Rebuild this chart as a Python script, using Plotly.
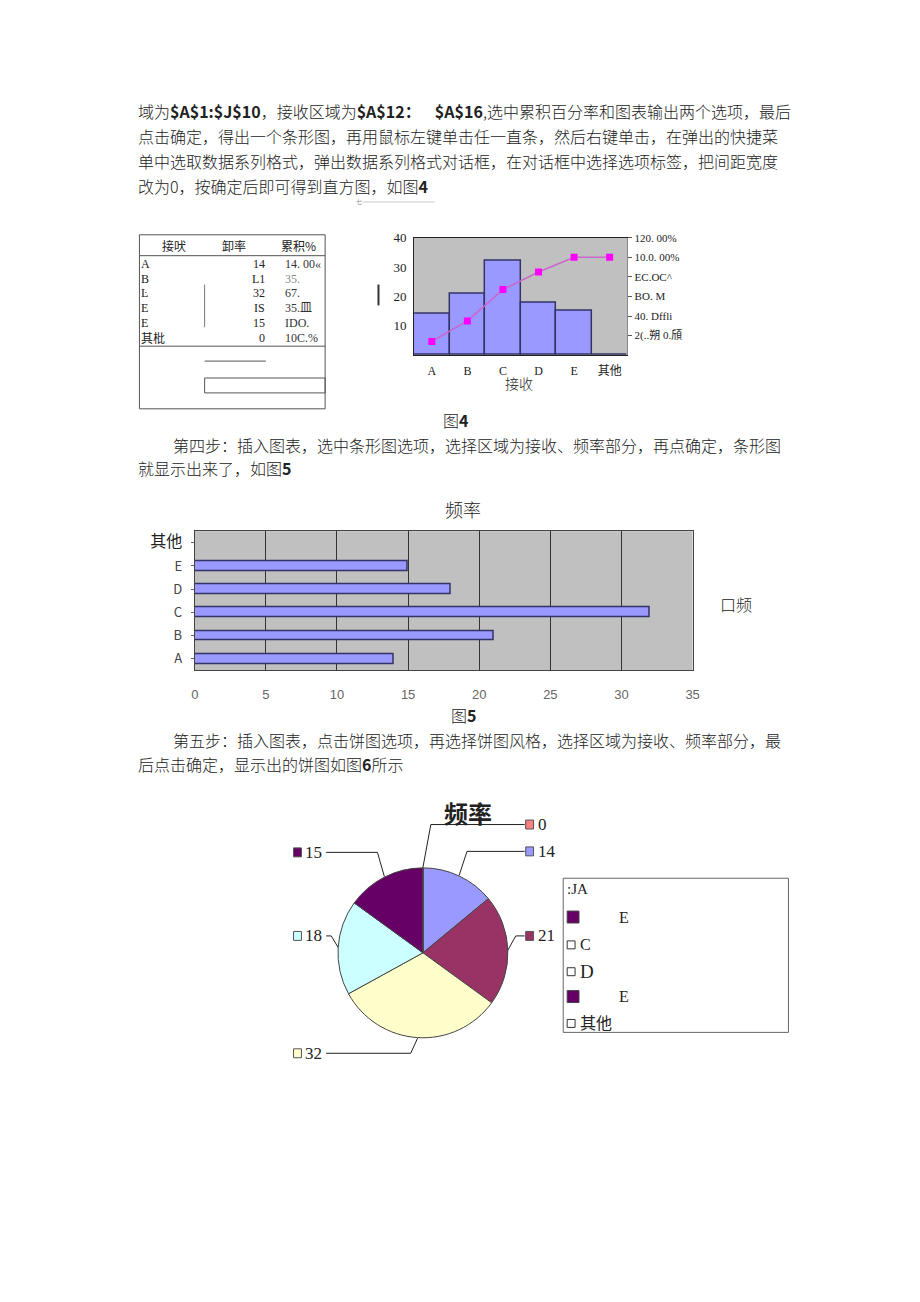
import math
import plotly.graph_objects as go

# ---------------- data ----------------
categories = ["A", "B", "C", "D", "E", "其他"]
freq = [14, 21, 32, 18, 15, 0]
cum_pct = [14, 35, 67, 85, 100, 100]
cum_ticks = [20, 40, 60, 80, 100, 120]
cum_ticktext = ["2(..朔 0.頎", "40. Dffli", "BO. M", "EC.OC^", "10.0. 00%", "120. 00%"]
left_ticks = [10, 20, 30, 40]
bar_ticks = [0, 5, 10, 15, 20, 25, 30, 35]

table_header = ["接吠", "卸率", "累积%"]
table_labels = ["A", "B", "Ŀ", "E", "E", "其枇"]
table_freq = ["14", "L1", "32", "IS", "15", "0"]
table_cum = ["14. 00«", "35.", "67.", "35.皿", "IDO.", "10C.%"]

pie_colors = ["#9999FF", "#993366", "#FFFFCC", "#CCFFFF", "#660066", "#FF8080"]
legend_entries = [":JA", "E", "C", "D", "E", "其他"]

para1 = [
    "域为<b>$A$1:$J$10</b>，接收区域为<b>$A$12：</b>    <b>$A$16</b>,选中累积百分率和图表输出两个选项，最后",
    "点击确定，得出一个条形图，再用鼠标左键单击任一直条，然后右键单击，在弹出的快捷菜",
    "单中选取数据系列格式，弹出数据系列格式对话框，在对话框中选择选项标签，把间距宽度",
    "改为0，按确定后即可得到直方图，如图<b>4</b>",
]
para2 = [
    "第四步：插入图表，选中条形图选项，选择区域为接收、频率部分，再点确定，条形图",
    "就显示出来了，如图<b>5</b>",
]
para3 = [
    "第五步：插入图表，点击饼图选项，再选择饼图风格，选择区域为接收、频率部分，最",
    "后点击确定，显示出的饼图如图<b>6</b>所示",
]

# ---------------- layout helpers ----------------
OFF = 8  # default page body margin
W, H = 904, 1276
def X(px):
    return (px - OFF) / W
def Y(py):
    return 1 - (py - OFF) / H

SERIF = "Liberation Serif, Noto Sans CJK SC"
CJK = "Noto Sans CJK SC, Liberation Serif"
TXT = "#222222"

fig = go.Figure()

# Figure 4 histogram
fig.add_trace(go.Bar(x=categories, y=freq, width=1,
                     marker=dict(color="#9999FF", line=dict(color="#333366", width=1.5)),
                     xaxis="x", yaxis="y", showlegend=False))
fig.add_trace(go.Scatter(x=categories, y=cum_pct, mode="lines+markers",
                         line=dict(color="#CC66CC", width=1.5),
                         marker=dict(symbol="square", size=7, color="#FF00FF"),
                         xaxis="x", yaxis="y2", showlegend=False))

# Figure 5 horizontal bars
fig.add_trace(go.Bar(x=freq, y=categories, orientation="h", width=0.42,
                     marker=dict(color="#9999FF", line=dict(color="#333366", width=1.5)),
                     xaxis="x3", yaxis="y3", showlegend=False))

# Figure 6 pie
pie_cx, pie_cy, pie_r = 424, 951, 86
fig.add_trace(go.Pie(values=freq, labels=categories, sort=False, direction="clockwise",
                     rotation=0, textinfo="none", hoverinfo="label+value",
                     marker=dict(colors=pie_colors, line=dict(color="#444444", width=1)),
                     domain=dict(x=[X(pie_cx - pie_r), X(pie_cx + pie_r)],
                                 y=[Y(pie_cy + pie_r), Y(pie_cy - pie_r)]),
                     showlegend=False))

ann = []
shapes = []

def text(px, py, s, size=16, family=CJK, anchor="left", color=TXT, weight=None):
    f = dict(size=size, family=family, color=color)
    if weight:
        f["weight"] = weight
    ann.append(dict(x=X(px), y=Y(py), xref="paper", yref="paper", text=s, showarrow=False,
                    xanchor=anchor, yanchor="middle", borderpad=0, font=f))

def line(x0, y0, x1, y1, color="#222222", width=1):
    shapes.append(dict(type="line", xref="paper", yref="paper", x0=X(x0), y0=Y(y0), x1=X(x1), y1=Y(y1),
                       line=dict(color=color, width=width)))

def rect(x0, y0, x1, y1, fill="rgba(0,0,0,0)", color="#333333", width=1):
    shapes.append(dict(type="rect", xref="paper", yref="paper", x0=X(x0), y0=Y(y0), x1=X(x1), y1=Y(y1),
                       fillcolor=fill, line=dict(color=color, width=width)))

# paragraphs
for i, s in enumerate(para1):
    text(135, 105 + i * 25, s, weight=300)
text(355, 196, "七", size=6, color="#888888")
line(363, 196, 436, 196, color="#aaaaaa", width=0.6)
text(170, 440, para2[0], weight=300)
text(135, 464, para2[1], weight=300)
text(170, 737, para3[0], weight=300)
text(135, 761, para3[1], weight=300)

# captions
text(457, 415, "图<b>4</b>", size=16, anchor="center", weight=300)
text(465, 712, "图<b>5</b>", size=16, anchor="center", weight=300)

# ---- table (figure 4 left) ----
rect(137, 229, 325, 404, color="#555555")
line(137, 250, 325, 250, color="#555555")
line(137, 341, 325, 341, color="#555555")
line(203, 279, 203, 322, color="#777777")
line(203, 356, 265, 356, color="#555555")
rect(203, 373, 325, 388, color="#555555")
for cx, h in zip([172, 233, 298], table_header):
    text(cx, 240, h, size=12, anchor="center")
for i in range(len(table_labels)):
    yy = 258 + i * 15
    text(138, yy, table_labels[i], size=12, family=SERIF)
    text(265, yy, table_freq[i], size=12, family=SERIF, anchor="right")
    text(283, yy, table_cum[i], size=12, family=SERIF, color="#333333" if i != 1 else "#888888")

# histogram extras
text(521, 378, "接收", size=14, anchor="center", weight=300)
line(379, 279, 379, 300, color="#333333", width=2)

# bar chart extras
text(465, 505, "频率", size=18, anchor="center", weight=300)
text(724, 600, "口频", size=16, weight=300)

# ---- pie leader lines and labels ----
pie_label_y = [849, 934, 1052, 934, 850, 822]
total = sum(freq)
start = 0
for i, v in enumerate(freq):
    mid = (start + v / 2) / total
    start += v
    th = 2 * math.pi * mid
    s = math.sin(th)
    ex, ey = pie_cx + pie_r * s, pie_cy - pie_r * math.cos(th)
    side = 1 if (s > 0.02 or v == 0) else -1
    elx = ex + (8 if side > 0 else -7)
    ly = pie_label_y[i]
    line(ex, ey, elx, ly, color="#222222", width=1)
    if side > 0:
        line(elx, ly, 527, ly, color="#222222", width=1)
        rect(528, ly - 4.5, 536, ly + 4.5, fill=pie_colors[i], color="#555555")
        text(539, ly, str(v), size=17, family=SERIF)
    else:
        line(elx, ly, 326, ly, color="#222222", width=1)
        rect(293, ly - 4.5, 301, ly + 4.5, fill=pie_colors[i], color="#555555")
        text(304, ly, str(v), size=17, family=SERIF)

text(470, 810, "<b>频率</b>", size=24, anchor="center")

# pie legend box
rect(566, 876, 794, 1031, color="#666666")
leg_y = [887, 915, 943, 970, 995, 1022]
for i, (lab, yy) in enumerate(zip(legend_entries, leg_y)):
    if i == 0:
        text(569, yy, lab, size=15, family=SERIF)
    elif lab == "E":
        rect(570, yy - 6, 582, yy + 6, fill="#660066", color="#444444")
        text(621, yy, lab, size=16, family=SERIF)
    else:
        rect(570, yy - 4, 578, yy + 4, fill="white", color="#333333")
        text(582, yy, lab, size=16 if lab != "D" else 19, family=SERIF)

bar_ticktext = [c if len(c) == 1 else '<span style="font-size:16px;fill:#222">' + c + "</span>"
                for c in categories]

fig.update_layout(
    width=W, height=H, margin=dict(l=0, r=0, t=0, b=0),
    paper_bgcolor="white", plot_bgcolor="#C0C0C0",
    bargap=0,
    annotations=ann, shapes=shapes,
    xaxis=dict(domain=[X(415), X(631)], type="category", range=[-0.5, 5.5],
               showline=True, linecolor="#222222", mirror=True, ticks="",
               tickfont=dict(size=12, family=SERIF, color="#222222"), ticklabelstandoff=4,
               showgrid=False, fixedrange=True),
    yaxis=dict(domain=[Y(350), Y(232)], range=[0, 40], tickvals=left_ticks,
               showline=True, linecolor="#222222", ticks="", showgrid=False, zeroline=False,
               tickfont=dict(size=13, family=SERIF, color="#222222"), ticklabelstandoff=4),
    yaxis2=dict(overlaying="y", side="right", range=[0, 120], tickvals=cum_ticks,
                ticktext=cum_ticktext, ticks="outside", ticklen=4, tickcolor="#555555",
                showgrid=False, zeroline=False, showline=True, linecolor="#888888",
                tickfont=dict(size=11, family=SERIF, color="#222222"), anchor="x"),
    xaxis3=dict(domain=[X(193), X(697)], range=[0, 35], tickvals=bar_ticks,
                showgrid=True, gridcolor="#333333", gridwidth=1, zeroline=False,
                showline=True, linecolor="#444444", mirror=True, ticks="",
                tickfont=dict(size=13, family="Liberation Sans Narrow, Liberation Sans", color="#666666"),
                ticklabelstandoff=12, anchor="y3"),
    yaxis3=dict(domain=[Y(667), Y(527)], type="category", range=[-0.5, 5.5],
                tickvals=categories, ticktext=bar_ticktext,
                showline=True, linecolor="#444444", mirror=True, ticks="outside", ticklen=3,
                tickcolor="#666666", showgrid=False,
                tickfont=dict(size=13, family="Liberation Sans Narrow, Noto Sans CJK SC", color="#444444"),
                ticklabelstandoff=6, anchor="x3"),
)

fig.write_html("out.html")
